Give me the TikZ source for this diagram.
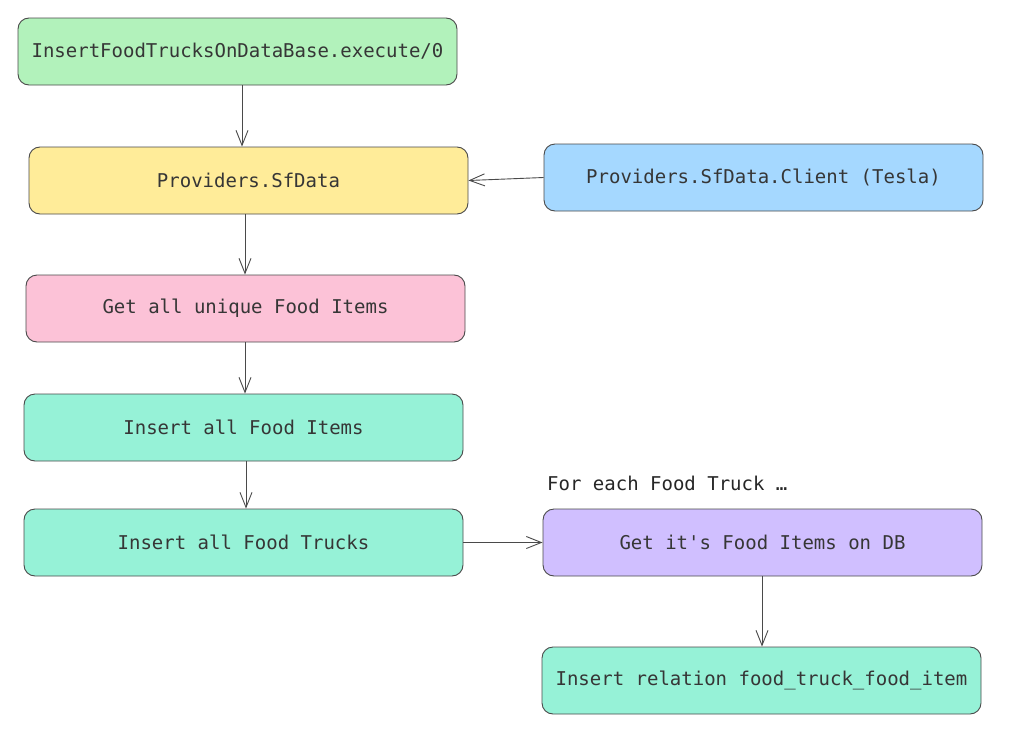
\documentclass[tikz,border=0pt]{standalone}
\usepackage{fontspec}
\setmonofont{DejaVu Sans Mono}
\usetikzlibrary{arrows.meta}
\definecolor{cgreen}{HTML}{B2F2BB}
\definecolor{cyellow}{HTML}{FFEC99}
\definecolor{cblue}{HTML}{A5D8FF}
\definecolor{cpink}{HTML}{FCC2D7}
\definecolor{cteal}{HTML}{96F2D7}
\definecolor{cpurple}{HTML}{D0BFFF}
\definecolor{cstroke}{HTML}{4A4A4A}
\definecolor{ctext}{HTML}{363636}
\tikzset{
  box/.style={draw=cstroke, line width=0.9pt, rounded corners=11pt,
    minimum width=439pt, minimum height=67pt, inner sep=0pt,
    font=\fontsize{19}{22}\selectfont\ttfamily, text=ctext},
  arr/.style={draw=cstroke, line width=0.9pt, -{Straight Barb[length=15pt,width=12pt]}},
  lbl/.style={font=\fontsize{19}{22}\selectfont\ttfamily, text=black!85, inner sep=0pt, anchor=west}
}
\begin{document}
\begin{tikzpicture}[x=1pt,y=-1pt]
\useasboundingbox (0,0) rectangle (1020,736);
\node[box, fill=cgreen] (n1) at (237.5,51.5) {InsertFoodTrucksOnDataBase.execute/0};
\node[box, fill=cyellow] (n2) at (248.5,180.5) {Providers.SfData};
\node[box, fill=cblue] (n3) at (763.5,177.5) {Providers.SfData.Client (Tesla)};
\node[box, fill=cpink] (n4) at (245.5,308.5) {Get all unique Food Items};
\node[box, fill=cteal] (n5) at (243.5,427.5) {Insert all Food Items};
\node[box, fill=cteal] (n6) at (243.5,542.5) {Insert all Food Trucks};
\node[box, fill=cpurple] (n7) at (762.5,542.5) {Get it's Food Items on DB};
\node[box, fill=cteal] (n8) at (761.5,680.5) {Insert relation food\_truck\_food\_item};
\node[lbl] (t1) at (547,483) {For each Food Truck …};
\draw[arr] (n1.south -| 242,0) -- (n2.north -| 242,0);
\draw[arr] (n3.west) -- (n2.east);
\draw[arr] (n2.south -| 245,0) -- (n4.north -| 245,0);
\draw[arr] (n4.south -| 245,0) -- (n5.north -| 245,0);
\draw[arr] (n5.south -| 246,0) -- (n6.north -| 246,0);
\draw[arr] (n6.east) -- (n7.west);
\draw[arr] (n7.south -| 762,0) -- (n8.north -| 762,0);
\end{tikzpicture}
\end{document}
